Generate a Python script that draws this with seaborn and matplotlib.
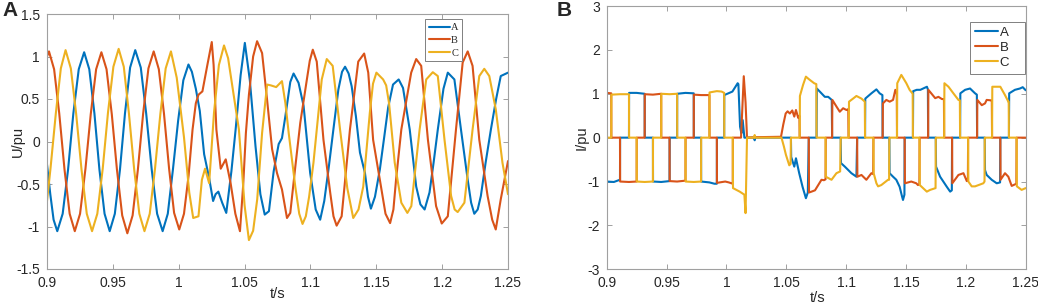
import matplotlib
matplotlib.use("Agg")
import matplotlib.pyplot as plt
from matplotlib.lines import Line2D
from matplotlib.ticker import FuncFormatter
import seaborn as sns
import pandas as pd

# phase colours (MATLAB default order)
colors = {"A": "#0072BD", "B": "#D95319", "C": "#EDB120"}
phases = ["A", "B", "C"]

# ---- panel A: phase voltages (t in s, value in pu) ----
ua = [(0.9000, -0.27), (0.9025, -0.62), (0.9050, -0.92), (0.9078, -1.055), (0.9119, -0.85), (0.9160, -0.33),
      (0.9200, 0.33), (0.9241, 0.85), (0.9282, 1.05), (0.9321, 0.85), (0.9360, 0.33), (0.9398, -0.33),
      (0.9437, -0.85), (0.9476, -1.055), (0.9515, -0.85), (0.9554, -0.33), (0.9592, 0.33), (0.9631, 0.87),
      (0.9670, 1.075), (0.9712, 0.87), (0.9753, 0.33), (0.9795, -0.33), (0.9836, -0.85), (0.9878, -1.055),
      (0.9917, -0.85), (0.9956, -0.33), (0.9996, 0.25), (1.0035, 0.72), (1.0074, 0.906), (1.0100, 0.82),
      (1.0130, 0.62), (1.0160, 0.36), (1.0193, -0.15), (1.0231, -0.43), (1.0261, -0.70), (1.0280, -0.62),
      (1.0301, -0.59), (1.0330, -0.72), (1.0361, -0.84), (1.0400, -0.35), (1.0432, 0.14), (1.0470, 0.78),
      (1.0502, 1.16), (1.0540, 0.72), (1.0583, -0.055), (1.0620, -0.62), (1.0653, -0.86), (1.0685, -0.82),
      (1.0721, -0.35), (1.0759, -0.03), (1.0784, 0.04), (1.0810, 0.30), (1.0847, 0.70), (1.0872, 0.80),
      (1.0910, 0.69), (1.0948, 0.42), (1.0998, -0.37), (1.1040, -0.80), (1.1074, -0.92), (1.1105, -0.70),
      (1.1137, -0.33), (1.1175, 0.15), (1.1212, 0.61), (1.1240, 0.82), (1.1263, 0.88), (1.1290, 0.80),
      (1.1313, 0.65), (1.1345, 0.30), (1.1376, -0.13), (1.1414, -0.37), (1.1437, -0.65), (1.1459, -0.79),
      (1.1490, -0.65), (1.1527, -0.33), (1.1560, 0.05), (1.1590, 0.40), (1.1627, 0.67), (1.1670, 0.73),
      (1.1703, 0.63), (1.1754, 0.14), (1.1803, -0.53), (1.1835, -0.74), (1.1867, -0.80), (1.1904, -0.60),
      (1.1935, -0.25), (1.1967, 0.14), (1.2010, 0.62), (1.2043, 0.81), (1.2093, 0.73), (1.2143, 0.14),
      (1.2194, -0.45), (1.2220, -0.72), (1.2244, -0.85), (1.2270, -0.80), (1.2294, -0.64), (1.2330, -0.25),
      (1.2370, 0.14), (1.2410, 0.50), (1.2445, 0.77), (1.2500, 0.81)]

ub = [(0.9000, 1.00), (0.9015, 1.06), (0.9054, 0.85), (0.9093, 0.33), (0.9133, -0.33), (0.9172, -0.85),
      (0.9211, -1.055), (0.9251, -0.85), (0.9292, -0.32), (0.9332, 0.32), (0.9373, 0.85), (0.9413, 1.05),
      (0.9452, 0.85), (0.9492, 0.32), (0.9531, -0.33), (0.9571, -0.87), (0.9610, -1.08), (0.9650, -0.87),
      (0.9690, -0.33), (0.9730, 0.33), (0.9770, 0.86), (0.9810, 1.06), (0.9849, 0.85), (0.9888, 0.33),
      (0.9927, -0.32), (0.9965, -0.84), (1.0004, -1.035), (1.0040, -0.85), (1.0075, -0.40), (1.0105, 0.14),
      (1.0130, 0.45), (1.0150, 0.55), (1.0180, 0.59), (1.0215, 0.88), (1.0251, 1.17), (1.0265, 0.90),
      (1.0286, 0.14), (1.0319, -0.32), (1.0357, -0.21), (1.0394, -0.49), (1.0430, -0.85), (1.0465, -1.055),
      (1.0490, -0.50), (1.0510, 0.10), (1.0533, 0.55), (1.0565, 1.00), (1.0595, 1.18), (1.0633, 1.04),
      (1.0671, 0.49), (1.0709, -0.09), (1.0746, -0.37), (1.0784, -0.565), (1.0822, -0.90), (1.0847, -0.84),
      (1.0885, -0.30), (1.0923, 0.22), (1.0973, 0.73), (1.0995, 0.95), (1.1018, 1.08), (1.1048, 0.94),
      (1.1099, 0.02), (1.1150, -0.60), (1.1175, -0.88), (1.1199, -0.99), (1.1237, -0.88), (1.1300, 0.14),
      (1.1363, 0.94), (1.1408, 1.035), (1.1439, 0.81), (1.1476, 0.02), (1.1527, -0.45), (1.1570, -0.85),
      (1.1605, -0.96), (1.1630, -0.80), (1.1650, -0.45), (1.1690, 0.14), (1.1765, 0.81), (1.1803, 0.97),
      (1.1841, 0.89), (1.1892, 0.02), (1.1954, -0.76), (1.1997, -0.965), (1.2043, -0.88), (1.2105, 0.14),
      (1.2156, 0.93), (1.2194, 1.06), (1.2231, 0.89), (1.2282, 0.02), (1.2345, -0.64), (1.2380, -0.92),
      (1.2407, -1.035), (1.2445, -0.68), (1.2500, -0.23)]

uc = [(0.9000, -0.70), (0.9027, -0.31), (0.9067, 0.33), (0.9105, 0.86), (0.9141, 1.075), (0.9181, 0.86),
      (0.9221, 0.33), (0.9262, -0.33), (0.9302, -0.85), (0.9342, -1.055), (0.9382, -0.85), (0.9423, -0.32),
      (0.9463, 0.34), (0.9504, 0.88), (0.9544, 1.09), (0.9583, 0.88), (0.9622, 0.33), (0.9662, -0.33),
      (0.9701, -0.85), (0.9740, -1.055), (0.9780, -0.85), (0.9820, -0.32), (0.9861, 0.33), (0.9901, 0.86),
      (0.9941, 1.06), (0.9985, 0.75), (1.0040, 0.05), (1.0080, -0.60), (1.0110, -0.90), (1.0150, -0.88),
      (1.0176, -0.45), (1.0200, -0.32), (1.0231, -0.49), (1.0268, 0.34), (1.0305, 0.90), (1.0344, 1.13),
      (1.0375, 0.98), (1.0457, 0.14), (1.0500, -0.75), (1.0533, -1.16), (1.0565, -1.05), (1.0596, -0.68),
      (1.0633, 0.10), (1.0671, 0.67), (1.0700, 0.66), (1.0740, 0.64), (1.0784, 0.71), (1.0810, 0.45),
      (1.0835, 0.10), (1.0885, -0.53), (1.0915, -0.85), (1.0940, -0.97), (1.0965, -0.88), (1.0990, -0.65),
      (1.1023, -0.25), (1.1086, 0.73), (1.1124, 0.97), (1.1169, 0.89), (1.1225, 0.14), (1.1280, -0.55),
      (1.1325, -0.90), (1.1365, -0.80), (1.1401, -0.53), (1.1451, 0.34), (1.1475, 0.68), (1.1501, 0.81),
      (1.1552, 0.73), (1.1575, 0.66), (1.1597, 0.45), (1.1640, -0.25), (1.1690, -0.72), (1.1736, -0.84),
      (1.1766, -0.76), (1.1829, 0.14), (1.1879, 0.73), (1.1929, 0.815), (1.1967, 0.77), (1.2018, 0.02),
      (1.2068, -0.64), (1.2095, -0.80), (1.2118, -0.83), (1.2169, -0.72), (1.2231, 0.14), (1.2282, 0.77),
      (1.2320, 0.855), (1.2358, 0.77), (1.2407, 0.38), (1.2458, -0.25), (1.2500, -0.62)]

# ---- panel B: phase currents (t in s, value in pu) ----
ia = [(0.9000, -1.00), (0.9060, -1.01), (0.9100, -0.97), (0.9111, -0.97), (0.9112, 0.00), (0.9186, 0.00),
      (0.9187, 1.02), (0.9250, 1.02), (0.9317, 1.00), (0.9318, 0.00), (0.9386, 0.00), (0.9387, -1.00),
      (0.9455, -1.01), (0.9525, -0.99), (0.9526, 0.00), (0.9588, 0.00), (0.9589, 1.00), (0.9658, 1.02),
      (0.9727, 1.01), (0.9728, 0.00), (0.9788, 0.00), (0.9789, -1.00), (0.9858, -1.02), (0.9900, -1.05),
      (0.9920, -1.05), (0.9921, 0.00), (0.9981, 0.00), (0.9982, 0.97), (1.0050, 1.05), (1.0094, 1.24),
      (1.0100, 1.22), (1.0114, 0.25), (1.0125, 0.10), (1.0136, 0.40), (1.0150, 0.00), (1.0232, 0.00),
      (1.0236, -0.06), (1.0240, 0.00), (1.0539, 0.00), (1.0541, -0.44), (1.0567, -0.66), (1.0581, -0.47),
      (1.0608, -0.81), (1.0636, -1.12), (1.0664, -1.38), (1.0680, -1.25), (1.0688, 0.00), (1.0753, 0.00),
      (1.0755, 1.12), (1.0794, 1.01), (1.0822, 0.93), (1.0850, 0.93), (1.0880, 0.86), (1.0883, 0.00),
      (1.0955, 0.00), (1.0957, -0.58), (1.0989, -0.66), (1.1044, -0.81), (1.1086, -0.89), (1.1092, 0.00),
      (1.1158, 0.00), (1.1160, 0.89), (1.1211, 1.01), (1.1253, 1.10), (1.1280, 1.01), (1.1303, 0.97),
      (1.1305, 0.00), (1.1361, 0.00), (1.1363, -0.81), (1.1392, -0.89), (1.1419, -0.96), (1.1447, -1.12),
      (1.1467, -1.34), (1.1475, -1.42), (1.1487, -1.30), (1.1489, 0.00), (1.1558, 0.00), (1.1560, 1.06),
      (1.1590, 1.09), (1.1620, 1.09), (1.1675, 1.16), (1.1683, 1.10), (1.1685, 0.00), (1.1749, 0.00),
      (1.1751, -0.66), (1.1785, -0.89), (1.1841, -1.12), (1.1869, -1.23), (1.1883, -1.20), (1.1885, 0.00),
      (1.1952, 0.00), (1.1954, 1.01), (1.1994, 1.09), (1.2035, 1.12), (1.2077, 1.01), (1.2092, 0.98),
      (1.2094, 0.00), (1.2158, 0.00), (1.2160, -0.74), (1.2174, -0.85), (1.2216, -0.96), (1.2258, -1.04),
      (1.2286, -1.02), (1.2288, 0.00), (1.2360, 0.00), (1.2362, 1.01), (1.2410, 1.09), (1.2452, 1.12),
      (1.2475, 1.15), (1.2500, 1.08)]

ib = [(0.9000, 1.02), (0.9038, 1.01), (0.9039, 0.00), (0.9111, 0.00), (0.9112, -1.00), (0.9186, -1.01),
      (0.9250, -1.00), (0.9251, 0.00), (0.9317, 0.00), (0.9318, 0.99), (0.9386, 0.98), (0.9455, 1.00),
      (0.9456, 0.00), (0.9525, 0.00), (0.9526, -0.99), (0.9588, -1.00), (0.9658, -0.98), (0.9659, 0.00),
      (0.9727, 0.00), (0.9728, 0.98), (0.9788, 0.97), (0.9858, 0.97), (0.9859, 0.00), (0.9920, 0.00),
      (0.9921, -1.03), (0.9990, -1.00), (1.0020, -1.02), (1.0053, -1.05), (1.0054, 0.00), (1.0122, 0.00),
      (1.0145, 1.40), (1.0160, 0.80), (1.0172, 0.00), (1.0240, 0.01), (1.0456, 0.02), (1.0475, 0.30),
      (1.0495, 0.55), (1.0511, 0.60), (1.0530, 0.55), (1.0550, 0.62), (1.0567, 0.48), (1.0581, 0.63),
      (1.0600, 0.45), (1.0610, 0.50), (1.0612, 0.00), (1.0688, 0.00), (1.0690, -1.25), (1.0711, -1.23),
      (1.0740, -1.20), (1.0767, -1.08), (1.0794, -0.96), (1.0815, -0.97), (1.0828, -0.95), (1.0830, 0.00),
      (1.0883, 0.00), (1.0885, 0.86), (1.0919, 0.71), (1.0947, 0.59), (1.0975, 0.67), (1.1003, 0.63),
      (1.1018, 0.65), (1.1020, 0.00), (1.1092, 0.00), (1.1094, -0.89), (1.1128, -0.85), (1.1169, -0.96),
      (1.1211, -0.81), (1.1226, -0.83), (1.1228, 0.00), (1.1305, 0.00), (1.1307, 0.78), (1.1336, 0.86),
      (1.1364, 0.82), (1.1392, 0.86), (1.1411, 1.09), (1.1423, 1.00), (1.1425, 0.00), (1.1489, 0.00),
      (1.1491, -1.04), (1.1544, -1.00), (1.1586, -1.04), (1.1600, -1.08), (1.1612, -1.06), (1.1614, 0.00),
      (1.1685, 0.00), (1.1687, 1.09), (1.1744, 0.90), (1.1771, 0.93), (1.1800, 0.88), (1.1817, 0.88),
      (1.1819, 0.00), (1.1885, 0.00), (1.1887, -1.04), (1.1938, -0.85), (1.1980, -0.81), (1.2008, -0.99),
      (1.2017, -0.98), (1.2019, 0.00), (1.2094, 0.00), (1.2096, 0.86), (1.2133, 0.74), (1.2160, 0.78),
      (1.2174, 0.86), (1.2210, 0.85), (1.2217, 0.85), (1.2219, 0.00), (1.2288, 0.00), (1.2290, -0.96),
      (1.2327, -0.81), (1.2355, -0.89), (1.2383, -1.10), (1.2422, -1.05), (1.2424, 0.00), (1.2500, 0.00)]

ic = [(0.9000, 0.00), (0.9038, 0.00), (0.9039, 0.98), (0.9111, 0.99), (0.9186, 0.99), (0.9187, 0.00),
      (0.9250, 0.00), (0.9251, -1.00), (0.9317, -1.01), (0.9386, -1.00), (0.9387, 0.00), (0.9455, 0.00),
      (0.9456, 1.00), (0.9525, 0.99), (0.9588, 1.00), (0.9589, 0.00), (0.9658, 0.00), (0.9659, -1.00),
      (0.9727, -1.01), (0.9788, -1.00), (0.9789, 0.00), (0.9858, 0.00), (0.9859, 1.03), (0.9920, 1.06),
      (0.9960, 1.05), (0.9981, 1.02), (0.9982, 0.00), (1.0053, 0.00), (1.0055, -1.15), (1.0111, -1.23),
      (1.0150, -1.30), (1.0160, -1.72), (1.0172, 0.00), (1.0232, 0.00), (1.0236, 0.06), (1.0240, 0.00),
      (1.0460, 0.00), (1.0480, -0.20), (1.0497, -0.39), (1.0525, -0.63), (1.0536, -0.60), (1.0539, 0.00),
      (1.0612, 0.00), (1.0614, 0.95), (1.0640, 1.20), (1.0664, 1.39), (1.0690, 1.33), (1.0733, 1.24),
      (1.0751, 1.22), (1.0753, 0.00), (1.0828, 0.00), (1.0830, -0.89), (1.0878, -0.96), (1.0919, -0.81),
      (1.0950, -0.77), (1.0955, 0.00), (1.1022, 0.00), (1.1024, 0.82), (1.1058, 0.89), (1.1086, 0.95),
      (1.1128, 0.89), (1.1156, 0.82), (1.1158, 0.00), (1.1228, 0.00), (1.1230, -0.81), (1.1253, -1.04),
      (1.1267, -1.11), (1.1294, -1.08), (1.1350, -0.96), (1.1359, -0.96), (1.1361, 0.00), (1.1425, 0.00),
      (1.1427, 1.24), (1.1461, 1.43), (1.1503, 1.24), (1.1530, 1.09), (1.1556, 1.00), (1.1558, 0.00),
      (1.1613, 0.00), (1.1615, -1.08), (1.1674, -1.23), (1.1702, -1.19), (1.1747, -1.15), (1.1749, 0.00),
      (1.1819, 0.00), (1.1821, 1.24), (1.1855, 1.16), (1.1896, 1.01), (1.1938, 0.86), (1.1950, 0.85),
      (1.1952, 0.00), (1.2019, 0.00), (1.2021, -1.00), (1.2049, -1.11), (1.2077, -1.11), (1.2146, -1.04),
      (1.2156, -1.00), (1.2158, 0.00), (1.2219, 0.00), (1.2221, 1.16), (1.2288, 1.16), (1.2327, 0.97),
      (1.2355, 0.82), (1.2358, 0.82), (1.2360, 0.00), (1.2424, 0.00), (1.2426, -1.11), (1.2466, -1.19),
      (1.2500, -1.15)]

x_ticks = [0.9, 0.95, 1.0, 1.05, 1.1, 1.15, 1.2, 1.25]
u_ticks = [-1.5, -1, -0.5, 0, 0.5, 1, 1.5]
i_ticks = [-3, -2, -1, 0, 1, 2, 3]


def to_frame(series):
    parts = []
    for name, pts in zip(phases, series):
        d = pd.DataFrame(pts, columns=["t", "v"])
        d["phase"] = name
        parts.append(d)
    return pd.concat(parts, ignore_index=True)


sns.set_theme(style="white")
plt.rcParams["font.family"] = ["Liberation Sans", "DejaVu Sans"]
plt.rcParams["axes.unicode_minus"] = False

fig = plt.figure(figsize=(10.38, 3.03), dpi=100)
ax1 = fig.add_axes([47 / 1038, 34 / 303, 461 / 1038, 255 / 303])
ax2 = fig.add_axes([606.7 / 1038, 33.7 / 303, 419 / 1038, 263.3 / 303])

fmt = FuncFormatter(lambda x, pos: "%g" % round(x, 3))
spine_col = "#a0a0a0"

for ax, data, yt, ylab in [(ax1, [ua, ub, uc], u_ticks, "U/pu"), (ax2, [ia, ib, ic], i_ticks, "I/pu")]:
    df = to_frame(data)
    sns.lineplot(data=df, x="t", y="v", hue="phase", palette=colors, sort=False,
                 estimator=None, linewidth=1.5, legend=False, ax=ax)
    ax.set_xlim(0.9, 1.25)
    ax.set_ylim(yt[0], yt[-1])
    ax.set_xticks(x_ticks)
    ax.set_yticks(yt)
    ax.xaxis.set_major_formatter(fmt)
    ax.yaxis.set_major_formatter(fmt)
    ax.tick_params(direction="in", length=3.5, width=0.7, color=spine_col, labelsize=10,
                   labelcolor="#262626", top=True, right=True, bottom=True, left=True, pad=5)
    for s in ax.spines.values():
        s.set_color(spine_col)
        s.set_linewidth(0.8)
    ax.set_xlabel("t/s", fontsize=10.5, color="#262626")
    ax.set_ylabel(ylab, fontsize=10.5, color="#262626")

ax1.xaxis.set_label_coords(0.5, -0.07)
ax1.yaxis.set_label_coords(-0.047, 0.5)
ax2.xaxis.set_label_coords(0.504, -0.082)
ax2.yaxis.set_label_coords(-0.044, 0.5)

handles = [Line2D([], [], color=colors[p], lw=1.5) for p in phases]
leg1 = ax1.legend(handles, phases, loc="upper right", bbox_to_anchor=(0.901, 0.979),
                  prop={"family": "Liberation Serif", "size": 7.5}, frameon=True, fancybox=False,
                  framealpha=1, edgecolor="#808080", handlelength=2.0, handletextpad=0.15,
                  labelspacing=0.33, borderpad=0.35, borderaxespad=0)
leg1.get_frame().set_linewidth(0.7)
leg2 = ax2.legend(handles, [p + "   " for p in phases], loc="upper right", bbox_to_anchor=(0.998, 0.940),
                  prop={"size": 9.5}, frameon=True, fancybox=False, framealpha=1,
                  edgecolor="#808080", handlelength=1.75, handletextpad=0.15,
                  labelspacing=0.22, borderpad=0.35, borderaxespad=0)
leg2.get_frame().set_linewidth(0.7)

fig.text(2 / 1038, 1 - 1 / 303, "A", fontsize=15, fontweight="bold", va="top", ha="left")
fig.text(557 / 1038, 1 - 1 / 303, "B", fontsize=15, fontweight="bold", va="top", ha="left")

fig.savefig("out.png", dpi=100)
